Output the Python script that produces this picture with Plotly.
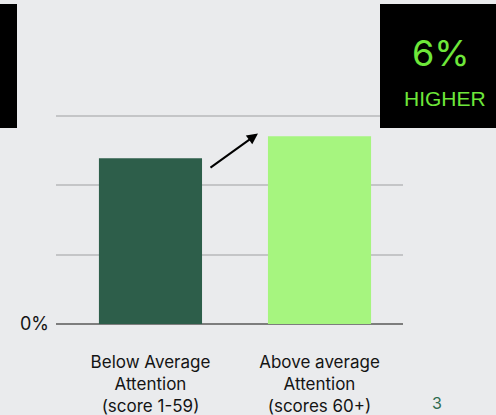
import plotly.graph_objects as go

# Data
categories = ["Below Average<br>Attention<br>(score 1-59)",
              "Above average<br>Attention<br>(scores 60+)"]
values = [23.9, 27.1]
bar_colors = ["#2D5E4A", "#A6F57F"]
y_tickvals = [0, 10, 20, 30]
y_ticktext = ["0%", "", "", ""]
callout_value = "6%"
callout_word = "HIGHER"
page_number = "3"

W, H = 496, 415
PL, PR, PT, PB = 56, 403, 114, 324  # plot-area edges in pixels


def px_x(p):
    return (p - PL) / (PR - PL)


def px_y(p):
    return (PB - p) / (PB - PT)


FONT = "Inter"
BG = "#EAEBED"
GREEN_TXT = "#6EE73A"

fig = go.Figure()
fig.add_trace(go.Bar(
    x=categories, y=values,
    marker=dict(color=bar_colors, line=dict(width=0)),
    width=0.61,
    hoverinfo="skip",
))

shapes = [
    # black callout boxes
    dict(type="rect", xref="paper", yref="paper",
         x0=px_x(380), x1=px_x(W + 5), y0=px_y(128), y1=px_y(4),
         fillcolor="#000000", line=dict(width=0), layer="above"),
    dict(type="rect", xref="paper", yref="paper",
         x0=px_x(-5), x1=px_x(17), y0=px_y(128), y1=px_y(4),
         fillcolor="#000000", line=dict(width=0), layer="above"),
]

annotations = [
    # arrow between the bars
    dict(x=0.636, y=27.5, ax=0.346, ay=22.4, xref="x", yref="y",
         axref="x", ayref="y", text="", showarrow=True,
         arrowhead=2, arrowsize=1.1, arrowwidth=2, arrowcolor="#000000"),
    dict(x=px_x(441), y=px_y(53), xref="paper", yref="paper",
         xanchor="center", yanchor="middle",
         text=callout_value, showarrow=False,
         font=dict(family=FONT, size=36, color=GREEN_TXT)),
    dict(x=px_x(445), y=px_y(98), xref="paper", yref="paper",
         xanchor="center", yanchor="middle",
         text=callout_word, showarrow=False,
         font=dict(family="Liberation Sans", size=21, color=GREEN_TXT)),
    dict(x=px_x(5), y=px_y(55), xref="paper", yref="paper",
         xanchor="right", yanchor="middle", text="%", showarrow=False,
         font=dict(family=FONT, size=36, color=GREEN_TXT)),
    dict(x=px_x(437), y=px_y(403), xref="paper", yref="paper",
         xanchor="center", yanchor="middle",
         text=page_number, showarrow=False,
         font=dict(family=FONT, size=16, color="#2F6A50")),
]

fig.update_layout(
    width=W, height=H,
    margin=dict(l=PL, r=W - PR, t=PT, b=H - PB, autoexpand=False),
    paper_bgcolor=BG, plot_bgcolor=BG,
    showlegend=False,
    shapes=shapes,
    annotations=annotations,
    font=dict(family=FONT, color="#141414"),
)
fig.update_xaxes(
    range=[-0.559, 1.494], showgrid=False, showline=False, zeroline=False,
    automargin=False,
    ticks="", tickfont=dict(family=FONT, size=17, color="#141414"),
    ticklabelstandoff=26,
)
fig.update_yaxes(
    range=[0, 30.3], tickvals=y_tickvals, ticktext=y_ticktext,
    automargin=False,
    showgrid=True, gridcolor="#C4C5C7", gridwidth=2,
    zeroline=True, zerolinecolor="#7D7D7D", zerolinewidth=2,
    showline=False, ticks="", ticklabelstandoff=6,
    tickfont=dict(family=FONT, size=18, color="#141414"),
)

fig.write_html("out.html", config=dict(displayModeBar=False))
